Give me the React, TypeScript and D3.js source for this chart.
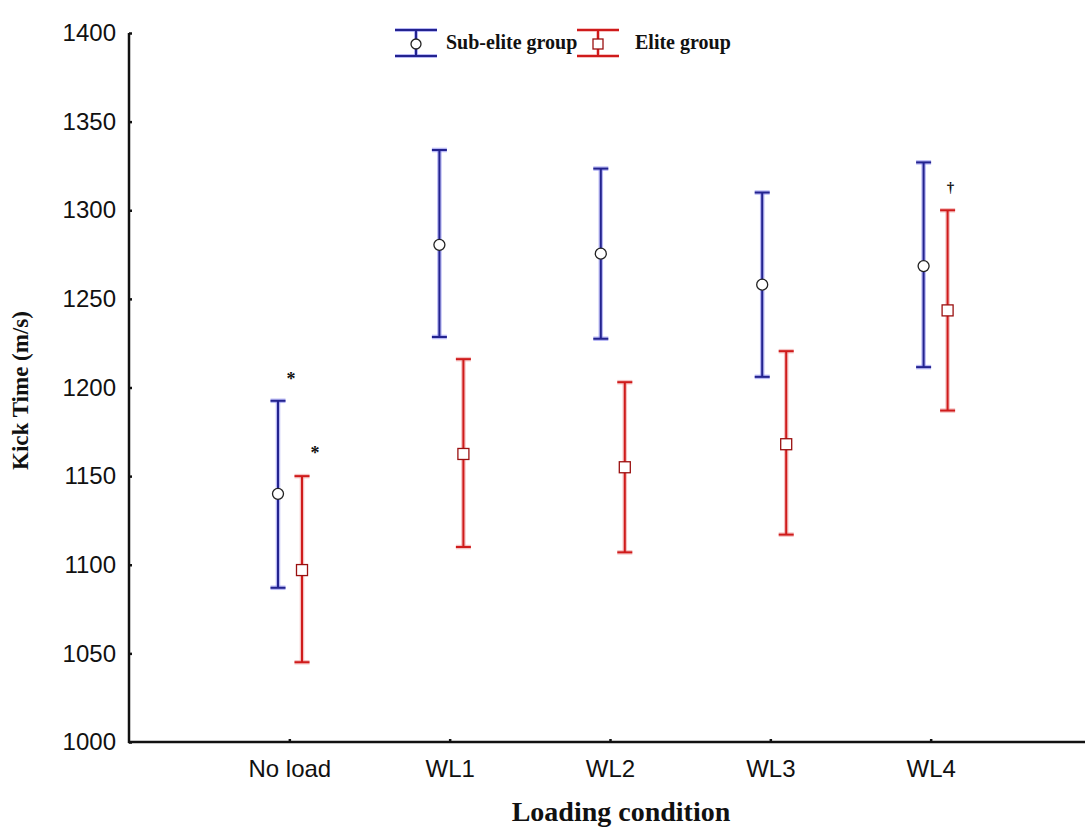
import { useEffect, useRef } from 'react'
import * as d3 from 'd3'

const conditions = ['No load', 'WL1', 'WL2', 'WL3', 'WL4']
const yTicks = [1000, 1050, 1100, 1150, 1200, 1250, 1300, 1350, 1400]

// means and error bar ends
const subEliteMean = [1140, 1280.5, 1275.5, 1258, 1268.5]
const subEliteLow = [1087, 1228.5, 1227.5, 1206, 1211.5]
const subEliteHigh = [1192.5, 1334, 1323.5, 1310, 1327]

const eliteMean = [1097, 1162.5, 1155, 1168, 1243.5]
const eliteLow = [1045, 1110, 1107, 1117, 1187]
const eliteHigh = [1150, 1216, 1203, 1220.5, 1300]

// significance marks
const marks = [
  { group: 'sub', idx: 0, value: 1204, sym: '*', dx: 13 },
  { group: 'elite', idx: 0, value: 1162, sym: '*', dx: 13 },
  { group: 'elite', idx: 4, value: 1312, sym: '†', dx: 3 },
]

const BLUE = '#23238f'
const BLUE_HALO = '#8c8cf0'
const RED = '#cf1b1b'
const RED_HALO = '#f09a9a'

export default function App() {
  const svgRef = useRef<SVGSVGElement | null>(null)

  useEffect(() => {
    if (!svgRef.current) return
    const svg = d3.select(svgRef.current)
    svg.selectAll('*').remove()

    const W = 1088, H = 829
    svg.attr('width', W).attr('height', H)

    const left = 129, right = 1085, top = 33, bottom = 742

    const y = d3.scaleLinear().domain([1000, 1400]).range([bottom, top])
    const xTick = d3.scalePoint<string>().domain(conditions).range([129, 1091]).padding(1)
    const xMark = d3.scalePoint<string>().domain(conditions).range([128.6, 1097]).padding(1)
    const off = { sub: -12, elite: 12 }

    svg.append('rect').attr('width', W).attr('height', H).attr('fill', '#fff')

    // y axis
    svg.append('g').attr('transform', `translate(${left},0)`)
      .call(d3.axisLeft(y).tickValues(yTicks).tickSizeInner(-3).tickSizeOuter(0).tickPadding(13).tickFormat(d3.format('d')))
      .call(ax => {
        ax.select('.domain').remove()
        ax.selectAll('line').attr('stroke', '#111').attr('stroke-width', 2.5)
        ax.selectAll('text').attr('fill', '#111').attr('font-size', 24)
          .attr('font-family', 'Liberation Sans, Arial, sans-serif')
      })

    // x axis
    svg.append('g').attr('transform', `translate(0,${bottom})`)
      .call(d3.axisBottom(xTick).tickSizeInner(-3).tickSizeOuter(0).tickPadding(18))
      .call(ax => {
        ax.select('.domain').remove()
        ax.selectAll('line').attr('stroke', '#111').attr('stroke-width', 2.5)
        ax.selectAll('text').attr('fill', '#111').attr('font-size', 24)
          .attr('font-family', 'Liberation Sans, Arial, sans-serif')
      })

    svg.append('line').attr('x1', left).attr('x2', left).attr('y1', top).attr('y2', bottom + 1)
      .attr('stroke', '#111').attr('stroke-width', 2.5)
    svg.append('line').attr('x1', left - 1).attr('x2', right).attr('y1', bottom).attr('y2', bottom)
      .attr('stroke', '#111').attr('stroke-width', 2.5)

    const drawBar = (cx: number, y1: number, y2: number, color: string, halo: string, capW: number) => {
      const g = svg.append('g')
      ;[[halo, 4.5, 0.6], [color, 2, 1]].forEach(([c, w, o]) => {
        g.append('line').attr('x1', cx).attr('x2', cx).attr('y1', y1).attr('y2', y2)
          .attr('stroke', c as string).attr('stroke-width', w as number).attr('opacity', o as number)
        ;[y1, y2].forEach(yy => {
          g.append('line').attr('x1', cx - capW / 2).attr('x2', cx + capW / 2).attr('y1', yy).attr('y2', yy)
            .attr('stroke', c as string).attr('stroke-width', w as number).attr('opacity', o as number)
        })
      })
      return g
    }

    // sub-elite
    conditions.forEach((c, i) => {
      const cx = (xMark(c) as number) + off.sub
      drawBar(cx, y(subEliteHigh[i]), y(subEliteLow[i]), BLUE, BLUE_HALO, 15)
      svg.append('circle').attr('cx', cx).attr('cy', y(subEliteMean[i])).attr('r', 5.5)
        .attr('fill', '#fff').attr('stroke', '#222').attr('stroke-width', 1.3)
    })

    // elite
    conditions.forEach((c, i) => {
      const cx = (xMark(c) as number) + off.elite
      drawBar(cx, y(eliteHigh[i]), y(eliteLow[i]), RED, RED_HALO, 15)
      svg.append('rect').attr('x', cx - 5.5).attr('y', y(eliteMean[i]) - 5.5).attr('width', 11).attr('height', 11)
        .attr('fill', '#fff').attr('stroke', '#9a1010').attr('stroke-width', 1.3)
    })

    marks.forEach(m => {
      const cx = (xMark(conditions[m.idx]) as number) + off[m.group as 'sub' | 'elite'] + m.dx
      svg.append('text').attr('x', cx).attr('y', y(m.value)).attr('text-anchor', 'middle')
        .attr('dominant-baseline', 'middle')
        .attr('font-size', m.sym === '*' ? 18 : 15).attr('font-weight', 'bold')
        .attr('font-family', 'Liberation Serif, Times New Roman, serif').attr('fill', '#111')
        .text(m.sym)
    })

    // legend
    const lg = svg.append('g')
    const legendItems = [
      { label: 'Sub-elite group', color: BLUE, halo: BLUE_HALO, x: 416, tx: 446, shape: 'circle' },
      { label: 'Elite group', color: RED, halo: RED_HALO, x: 598, tx: 635, shape: 'square' },
    ]
    legendItems.forEach(it => {
      ;[[it.halo, 4, 0.6], [it.color, 2, 1]].forEach(([c, w, o]) => {
        lg.append('line').attr('x1', it.x).attr('x2', it.x).attr('y1', 30).attr('y2', 56)
          .attr('stroke', c as string).attr('stroke-width', w as number).attr('opacity', o as number)
        ;[30, 56].forEach(yy => {
          lg.append('line').attr('x1', it.x - 21).attr('x2', it.x + 21).attr('y1', yy).attr('y2', yy)
            .attr('stroke', c as string).attr('stroke-width', w as number).attr('opacity', o as number)
        })
      })
      if (it.shape === 'circle') {
        lg.append('circle').attr('cx', it.x).attr('cy', 44).attr('r', 5)
          .attr('fill', '#fff').attr('stroke', '#222').attr('stroke-width', 1.3)
      } else {
        lg.append('rect').attr('x', it.x - 5).attr('y', 39).attr('width', 10).attr('height', 10)
          .attr('fill', '#fff').attr('stroke', '#9a1010').attr('stroke-width', 1.3)
      }
      lg.append('text').attr('x', it.tx).attr('y', 44).attr('dominant-baseline', 'middle')
        .attr('font-size', 20).attr('font-weight', 'bold')
        .attr('font-family', 'Liberation Serif, Times New Roman, serif').attr('fill', '#111')
        .text(it.label)
    })

    // axis titles
    svg.append('text').attr('transform', `translate(28,${(top + bottom) / 2 + 3}) rotate(-90)`)
      .attr('text-anchor', 'middle')
      .attr('font-size', 23).attr('font-weight', 'bold')
      .attr('font-family', 'Liberation Serif, Times New Roman, serif').attr('fill', '#111')
      .text('Kick Time (m/s)')

    svg.append('text').attr('x', 621).attr('y', 821).attr('text-anchor', 'middle')
      .attr('font-size', 28).attr('font-weight', 'bold')
      .attr('font-family', 'Liberation Serif, Times New Roman, serif').attr('fill', '#111')
      .text('Loading condition')
  }, [])

  return <svg ref={svgRef} style={{ position: 'absolute', left: 0, top: 0, display: 'block' }} />
}
